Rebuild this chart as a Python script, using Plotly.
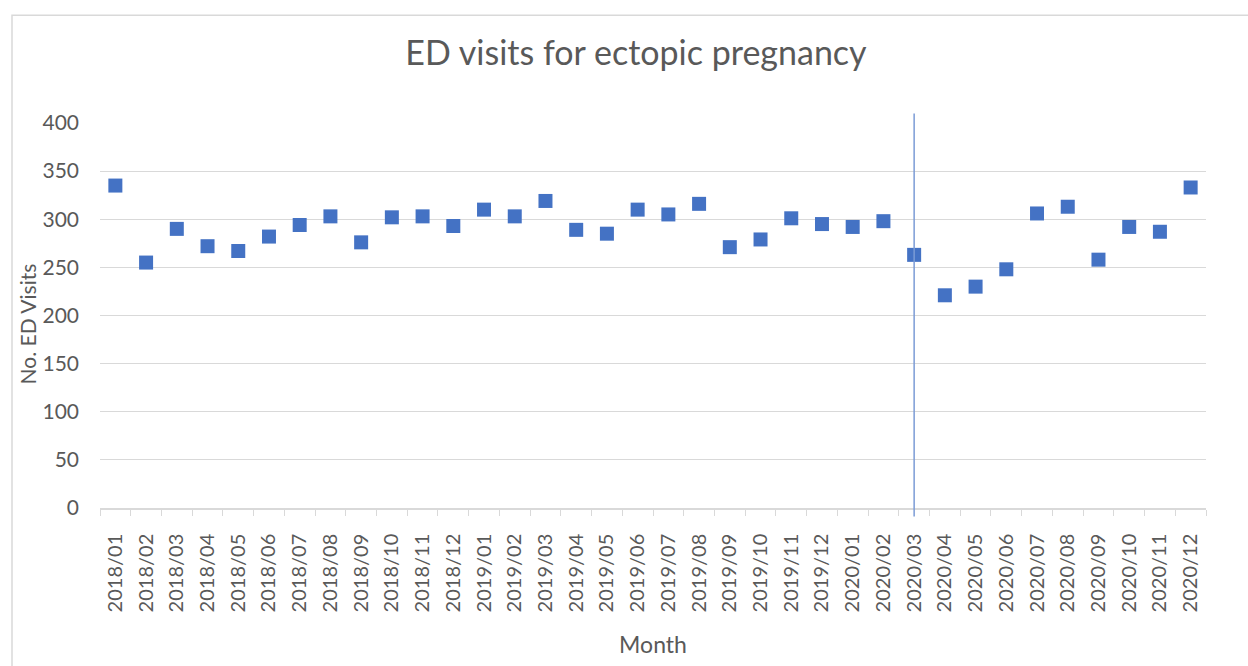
import plotly.graph_objects as go

# Monthly ED visits for ectopic pregnancy, Jan 2018 - Dec 2020
months = [
    "2018/01", "2018/02", "2018/03", "2018/04", "2018/05", "2018/06",
    "2018/07", "2018/08", "2018/09", "2018/10", "2018/11", "2018/12",
    "2019/01", "2019/02", "2019/03", "2019/04", "2019/05", "2019/06",
    "2019/07", "2019/08", "2019/09", "2019/10", "2019/11", "2019/12",
    "2020/01", "2020/02", "2020/03", "2020/04", "2020/05", "2020/06",
    "2020/07", "2020/08", "2020/09", "2020/10", "2020/11", "2020/12",
]
visits = [
    335, 255, 290, 272, 267, 282, 294, 303, 276, 302, 303, 293,
    310, 303, 319, 289, 285, 310, 305, 316, 271, 279, 301, 295,
    292, 298, 263, 221, 230, 248, 306, 313, 258, 292, 287, 333,
]
y_ticks = [0, 50, 100, 150, 200, 250, 300, 350, 400]
marker_month = "2020/03"

W, H = 1248, 666
ML, MR, MT, MB = 100, 42, 122.6, 155.5
plot_w = W - ML - MR
plot_h = H - MT - MB

grey_text = "#595959"
grid = "#D9D9D9"
font_family = "Lato, 'Open Sans', sans-serif"

fig = go.Figure()
fig.add_trace(go.Scatter(
    x=months, y=visits, mode="markers",
    marker=dict(symbol="square", size=14, color="#4472C4"),
    showlegend=False,
))

# vertical reference line at the start of the pandemic period
fig.add_shape(
    type="line", xref="x", yref="paper",
    x0=marker_month, x1=marker_month,
    y0=-8.5 / plot_h, y1=1 + 9.6 / plot_h,
    line=dict(color="#7B9BD6", width=1.5),
)

# outer chart frame
fig.add_shape(
    type="rect", xref="paper", yref="paper",
    x0=(12 - ML) / plot_w, x1=(W + 5 - ML) / plot_w,
    y0=-(H + 5 - MT - plot_h) / plot_h, y1=1 + (MT - 14) / plot_h,
    line=dict(color=grid, width=1.5), layer="below",
)

# y-axis title placed as a rotated annotation
fig.add_annotation(
    text="No. ED Visits", textangle=-90,
    xref="paper", yref="paper",
    x=(27.5 - ML) / plot_w, y=1 - (325 - MT) / plot_h,
    xanchor="center", yanchor="middle", showarrow=False,
    font=dict(size=21, color=grey_text),
)

fig.update_layout(
    width=W, height=H,
    margin=dict(l=ML, r=MR, t=MT, b=MB),
    paper_bgcolor="white", plot_bgcolor="white",
    font=dict(family=font_family, color=grey_text),
    title=dict(
        text="ED visits for ectopic pregnancy",
        x=636 / W, xanchor="center",
        y=1 - 53 / H, yanchor="middle",
        font=dict(size=34, color=grey_text),
    ),
    xaxis=dict(
        type="category",
        categoryorder="array", categoryarray=months,
        tickangle=-90,
        tickfont=dict(size=20, color=grey_text),
        tickson="boundaries",
        ticks="outside", ticklen=6, tickcolor=grid, tickwidth=1.2,
        ticklabelstandoff=16,
        showline=True, linecolor=grid, linewidth=1.5,
        showgrid=False,
        title=dict(text="Month", font=dict(size=23, color=grey_text), standoff=26),
        range=[-0.5, len(months) - 0.5],
    ),
    yaxis=dict(
        range=[0, 400],
        tickvals=y_ticks,
        tickfont=dict(size=21, color=grey_text),
        showgrid=True, gridcolor=grid, gridwidth=1.3,
        zeroline=False, showline=False,
        ticklabelstandoff=20,
    ),
)

fig.write_html("out.html")
